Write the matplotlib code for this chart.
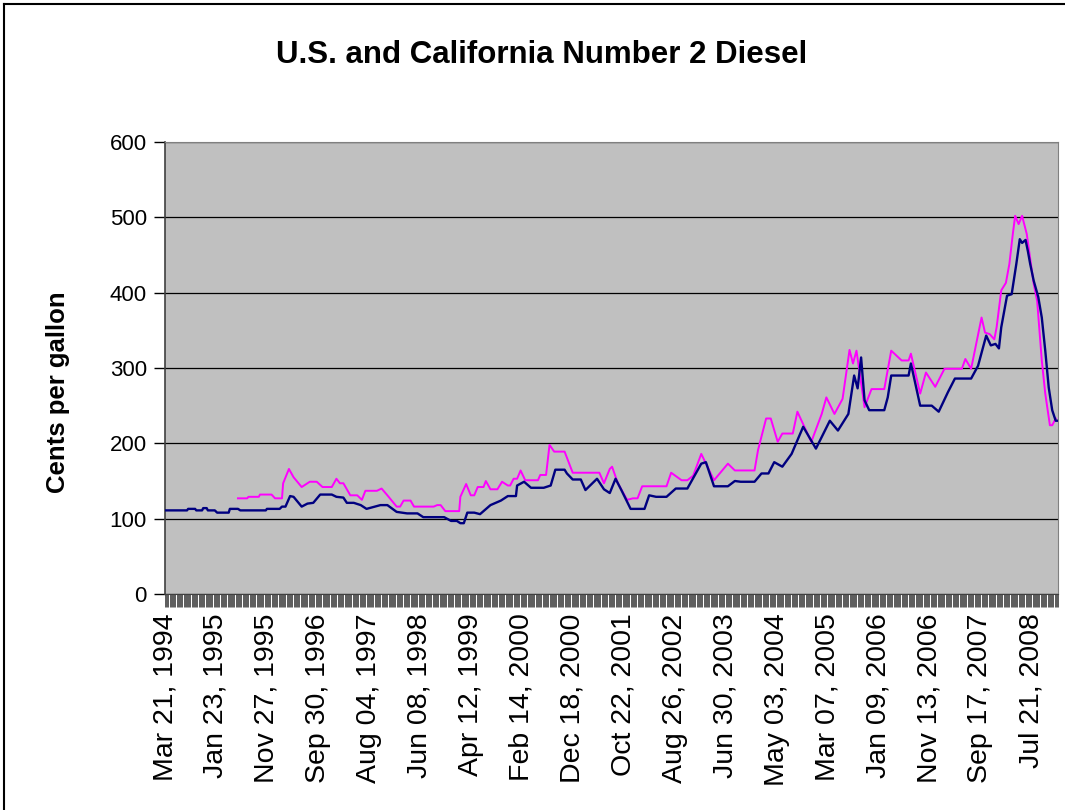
import matplotlib.pyplot as plt
from matplotlib.lines import Line2D

plt.rcParams['font.family'] = ['Liberation Sans', 'DejaVu Sans']

# semanas desde Mar 21, 1994 (eje de categorías semanal)
n_semanas = 772
etiquetas = ["Mar 21, 1994", "Jan 23, 1995", "Nov 27, 1995", "Sep 30, 1996",
             "Aug 04, 1997", "Jun 08, 1998", "Apr 12, 1999", "Feb 14, 2000",
             "Dec 18, 2000", "Oct 22, 2001", "Aug 26, 2002", "Jun 30, 2003",
             "May 03, 2004", "Mar 07, 2005", "Jan 09, 2006", "Nov 13, 2006",
             "Sep 17, 2007", "Jul 21, 2008"]
paso_etiqueta = 44

# U.S. No. 2 diesel (centavos por galón)
us_semana = [0, 19, 20, 26, 27, 32, 33, 36, 37, 43, 45, 55, 56, 63, 65, 87, 88, 99,
             101, 104, 108, 111, 118, 123, 128, 134, 144, 148, 154, 157, 163, 169,
             174, 186, 192, 200, 209, 218, 223, 232, 241, 247, 252, 255, 258, 261,
             267, 272, 281, 290, 296, 303, 304, 310, 316, 327, 333, 337, 345, 347,
             352, 359, 363, 373, 379, 384, 389, 394, 402, 414, 418, 424, 433, 441,
             451, 463, 467, 474, 486, 492, 497, 509, 515, 521, 526, 533, 541, 551,
             562, 574, 581, 590, 595, 598, 601, 604, 608, 621, 624, 627, 642, 644,
             652, 662, 668, 676, 682, 696, 702, 709, 713, 717, 720, 722, 727, 731,
             735, 738, 740, 743, 745, 747, 750, 754, 757, 760, 763, 766, 769, 771]
us_valor = [111, 111, 113, 113, 111, 111, 114, 114, 111, 111, 108, 108, 113, 113, 111,
            111, 113, 113, 116, 116, 130, 129, 116, 120, 121, 132, 132, 129, 128, 121,
            121, 118, 113, 118, 118, 109, 107, 107, 102, 102, 102, 97, 97, 94, 94, 108,
            108, 106, 118, 124, 130, 130, 144, 149, 141, 141, 144, 165, 165, 160, 152,
            152, 138, 153, 139, 134, 153, 138, 113, 113, 131, 129, 129, 140, 140, 173,
            175, 143, 143, 150, 149, 149, 160, 160, 175, 169, 186, 222, 193, 230, 217,
            239, 290, 273, 314, 257, 244, 244, 261, 290, 290, 306, 250, 250, 242, 268,
            286, 286, 303, 343, 330, 332, 326, 354, 396, 398, 438, 471, 466, 470, 455,
            438, 416, 394, 367, 323, 274, 244, 230, 230]

# California No. 2 diesel (centavos por galón)
ca_semana = [63, 71, 72, 81, 82, 92, 95, 101, 102, 107, 111, 118, 125, 131, 136, 144,
             148, 151, 154, 160, 166, 170, 173, 183, 187, 192, 200, 203, 206, 212, 215,
             232, 235, 238, 242, 254, 255, 260, 264, 267, 270, 275, 277, 281, 287, 291,
             296, 298, 301, 304, 307, 311, 322, 324, 329, 332, 336, 345, 349, 352, 375,
             379, 384, 386, 391, 399, 404, 408, 412, 433, 437, 446, 451, 456, 463, 474,
             486, 492, 509, 512, 519, 523, 529, 533, 542, 546, 558, 567, 571, 578, 585,
             591, 594, 597, 604, 610, 621, 627, 636, 642, 644, 652, 657, 665, 673, 688,
             691, 696, 705, 708, 712, 716, 718, 722, 726, 729, 732, 734, 737, 740, 744,
             750, 753, 757, 760, 764, 766, 769]
ca_valor = [127, 127, 129, 129, 132, 132, 127, 127, 147, 166, 155, 142, 149, 149, 142,
            142, 153, 147, 147, 131, 131, 125, 137, 137, 140, 131, 116, 116, 124, 124,
            116, 116, 118, 118, 110, 110, 129, 146, 131, 131, 142, 142, 150, 139, 139,
            149, 144, 144, 153, 153, 164, 151, 151, 158, 158, 198, 189, 189, 173, 161,
            161, 147, 166, 169, 147, 125, 127, 127, 143, 143, 161, 151, 151, 157, 186,
            151, 173, 164, 164, 191, 233, 233, 202, 213, 213, 242, 202, 239, 261, 239,
            259, 324, 306, 323, 248, 272, 272, 323, 310, 310, 319, 266, 294, 275, 299,
            299, 312, 299, 367, 347, 345, 338, 354, 403, 413, 438, 478, 502, 491, 502,
            478, 412, 389, 310, 266, 224, 224, 233]

fig = plt.figure(figsize=(10.65, 8.1), dpi=100)
ax = fig.add_axes([165 / 1065, 1 - 594 / 810, (1058 - 165) / 1065, (594 - 142) / 810])
ax.set_facecolor("#C0C0C0")

ax.plot(us_semana, us_valor, color="#000080", lw=1.7, zorder=3)
ax.plot(ca_semana, ca_valor, color="#FF00FF", lw=1.4, zorder=2)

ax.set_xlim(0, n_semanas - 1)
ax.set_ylim(0, 600)
ax.set_yticks(range(0, 601, 100))
ax.yaxis.grid(True, color="black", lw=0.9)
ax.set_axisbelow(True)
ax.tick_params(axis="y", labelsize=16, length=8, width=1, direction="out", pad=5)

ax.set_xticks(range(0, n_semanas, paso_etiqueta))
ax.set_xticklabels(etiquetas, rotation=90, fontsize=20.5)
ax.set_xticks(range(0, n_semanas), minor=True)
ax.tick_params(axis="x", which="both", length=9, width=0.6, color="#404040",
               direction="out", pad=5)

for lado in ["top", "right"]:
    ax.spines[lado].set_color("#808080")
ax.spines["left"].set_color("#404040")
ax.spines["bottom"].set_color("#404040")
ax.spines["left"].set_linewidth(1.2)

ax.set_ylabel("Cents per gallon", fontsize=18.5, fontweight="bold")
ax.yaxis.set_label_coords(-0.106, 0.447)
fig.text(542 / 1065, 1 - 55 / 810, "U.S. and California Number 2 Diesel",
         ha="center", va="center", fontsize=22.5, fontweight="bold")

# marco del área del gráfico
fig.add_artist(Line2D([4 / 1065, 4 / 1065], [0, 1 - 4 / 810], color="black", lw=1.5,
                      transform=fig.transFigure))
fig.add_artist(Line2D([4 / 1065, 1], [1 - 4 / 810, 1 - 4 / 810], color="black", lw=1.5,
                      transform=fig.transFigure))

plt.savefig("out.png", dpi=100)
